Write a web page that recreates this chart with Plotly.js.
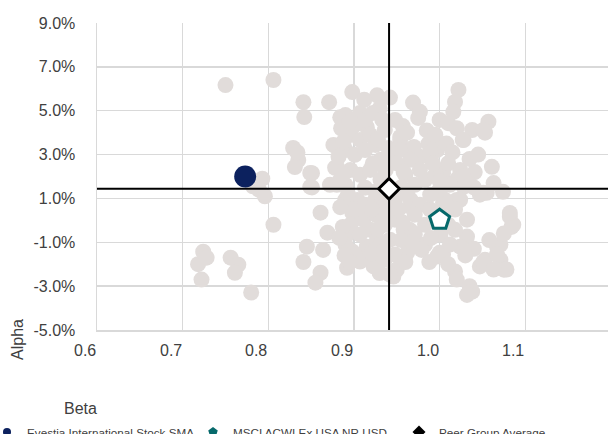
<!DOCTYPE html>
<html><head><meta charset="utf-8">
<script src="https://cdn.plot.ly/plotly-3.0.1.min.js"></script>
<style>html,body{margin:0;padding:0;background:#fff}#chart{width:608px;height:434px}</style>
</head><body><div id="chart"></div>
<script>
// Peer group cloud (beta, alpha %)
const peerBeta = [
0.750,0.806,0.793,0.789,0.796,0.782,0.806,0.724,0.718,0.722,0.728,0.756,0.765,0.761,0.780,
0.841,0.842,0.871,0.898,0.829,0.835,0.831,0.851,0.851,0.878,0.878,0.884,0.907,0.915,0.834,0.876,0.849,0.880,
0.927,0.942,0.969,0.977,0.975,1.000,1.010,1.022,1.018,1.016,1.020,1.027,1.057,1.053,0.987,0.997,0.954,0.966,0.977,0.954,0.946,0.962,0.912,0.930,
1.024,1.041,1.061,1.063,1.074,1.021,1.004,1.027,1.051,1.082,1.084,1.086,1.082,1.032,1.032,1.067,1.071,1.053,1.047,1.075,1.018,1.020,1.035,1.038,1.032,1.000,0.977,0.965,1.004,1.020,0.993,1.004,0.989,0.970,1.038,1.028,1.051,1.071,1.067,1.078,1.051,1.063,1.024,1.004,0.997,0.979,0.950,0.946,0.923,0.915,0.969,1.055,1.028,1.075,
0.849,0.880,0.861,0.869,0.845,0.864,0.841,0.861,0.855,0.892,0.898,0.892,0.898,0.904,0.923,0.942,0.919,0.915,0.958,0.962,0.966,0.911,0.934,0.927,
0.890,0.901,0.913,0.896,0.907,0.919,0.890,0.901,0.913,0.925,0.931,0.896,0.907,0.919,0.931,0.936,0.948,0.890,0.913,0.872,0.884,
0.890,0.901,0.913,0.925,0.936,0.948,0.896,0.907,0.925,0.936,0.948,0.890,0.901,0.931,0.942,0.907,0.936,0.948,
0.954,0.966,0.977,0.960,0.971,0.983,0.995,0.966,0.977,0.989,0.971,1.006,1.012,0.983,1.001,1.018,1.000,0.989,1.024,1.036,1.047,0.971,0.983,1.012,1.001,1.018,
0.935,0.955,0.945,
0.885,0.895,0.888,0.882,0.887,0.893,0.884,0.887,0.883,0.889,0.895,
0.922,0.933,0.928,0.940,0.922,0.937,0.925,0.921,0.938,0.928,0.921,0.935,0.930,
0.957,0.962,0.950,0.958,0.962,0.952,0.957,0.955,0.968,0.960,
0.985,0.995,1.008,1.015,0.992,1.010,1.035,1.045,1.000,1.040,0.995,1.010,0.990,1.040,1.058,1.030,0.988,1.010
];
const peerAlpha = [
6.17,6.40,1.90,1.40,1.10,1.55,-0.20,-1.43,-2.00,-2.70,-1.70,-1.70,-2.02,-2.39,-3.29,
5.39,4.71,5.39,5.85,3.30,2.75,2.43,2.15,1.50,2.40,3.40,4.70,4.90,4.25,3.10,3.44,2.16,2.44,
5.70,5.60,5.37,4.95,4.67,4.58,4.43,5.95,5.40,4.95,4.20,3.67,4.50,4.00,3.50,3.20,3.66,3.20,2.90,3.80,2.90,3.20,5.50,5.10,
2.30,2.20,2.44,1.70,1.30,1.90,2.30,1.99,1.26,0.17,-0.30,-0.20,0.34,0.03,-0.74,-1.20,-1.80,-1.80,-2.10,-2.25,-2.33,-2.70,-3.00,-3.25,-3.40,-1.48,-1.20,-0.43,0.80,0.93,3.66,2.15,3.06,3.35,4.12,3.66,4.12,-1.10,-1.56,-2.24,-1.90,-2.24,-1.20,-1.56,-1.65,-1.35,-2.24,-2.56,-2.00,-1.65,-0.56,1.26,1.53,-0.60,
1.53,1.62,0.35,-0.56,-1.20,-1.35,-1.90,-2.39,-2.84,-2.16,-1.42,-0.65,0.35,0.93,-2.10,-2.47,-0.43,-1.20,-0.43,-1.48,0.62,0.03,0.03,-0.88,
4.80,4.35,4.58,3.90,3.67,3.90,3.21,2.99,3.21,3.44,2.76,2.30,2.08,2.30,1.85,4.12,4.58,1.62,1.49,1.62,1.85,
0.94,0.49,0.71,0.94,0.71,0.94,-0.20,-0.65,0.26,-0.20,0.03,-1.10,-1.56,-1.10,-0.88,-1.88,-1.79,-1.56,
3.21,2.76,2.30,2.08,1.62,1.85,2.08,0.94,0.71,0.49,0.26,0.94,1.62,-0.20,-0.65,-0.43,1.40,1.17,0.94,1.62,1.17,-0.65,-1.10,-1.10,0.26,0.49,
1.30,1.50,1.10,
4.20,4.50,3.60,2.90,2.10,1.20,0.60,-0.30,-0.80,-1.60,-1.90,
4.90,4.60,3.70,3.30,2.60,2.30,1.30,0.50,0.40,-0.40,-1.50,-1.40,-2.40,
4.30,4.00,2.60,2.20,1.30,0.50,-0.10,-0.90,-1.00,-1.90,
4.10,3.90,3.50,3.10,2.60,2.60,2.80,3.00,1.80,1.50,0.20,-0.20,-0.80,-1.30,-0.90,-1.60,-1.90,-2.00
];
const fundName = "Evestia International Stock SMA";
const fundBeta = [0.773];
const fundAlpha = [2.00];
const benchName = "MSCI ACWI Ex USA NR USD";
const benchBeta = [1.000];
const benchAlpha = [0.03];
const avgName = "Peer Group Average";
const avgBeta = [0.941];
const avgAlpha = [1.44];
const xTicks = [0.6, 0.7, 0.8, 0.9, 1.0, 1.1];
const xTickLabels = ["0.6", "0.7", "0.8", "0.9", "1.0", "1.1"];
const yTicks = [-5, -3, -1, 1, 3, 5, 7, 9];
const yTickLabels = ["-5.0%", "-3.0%", "-1.0%", "1.0%", "3.0%", "5.0%", "7.0%", "9.0%"];
const xRange = [0.6, 1.1966];
const yRange = [-5, 9];

const FONT = '"Liberation Sans",Arial,sans-serif';
const TXT = '#404040';
const GRID = '#d9d9d9';

const traces = [
  {x: peerBeta, y: peerAlpha, type:'scatter', mode:'markers', showlegend:false, hoverinfo:'skip',
   marker:{size:16, color:'#e1dcda', line:{width:0}}},
  {x: [avgBeta[0], avgBeta[0]], y: yRange, type:'scatter', mode:'lines', showlegend:false,
   line:{color:'#000', width:2}, hoverinfo:'skip'},
  {x: xRange, y: [avgAlpha[0], avgAlpha[0]], type:'scatter', mode:'lines', showlegend:false,
   line:{color:'#000', width:2}, hoverinfo:'skip'},
  {x: fundBeta, y: fundAlpha, type:'scatter', mode:'markers', showlegend:false,
   marker:{size:22, color:'#0c215e', line:{width:0}}},
  {x: benchBeta, y: benchAlpha, type:'scatter', mode:'markers', showlegend:false,
   marker:{size:21, symbol:'pentagon', color:'#ffffff', line:{width:3, color:'#06696b'}}},
  {x: avgBeta, y: avgAlpha, type:'scatter', mode:'markers', showlegend:false,
   marker:{size:16, symbol:'diamond', color:'#ffffff', line:{width:3, color:'#000'}}},
  // legend keys (no data)
  {x:[null], y:[null], type:'scatter', mode:'markers', name: fundName, legend:'legend',
   marker:{size:8, color:'#0c215e'}},
  {x:[null], y:[null], type:'scatter', mode:'markers', name: benchName, legend:'legend2',
   marker:{size:10, symbol:'pentagon', color:'#06696b'}},
  {x:[null], y:[null], type:'scatter', mode:'markers', name: avgName, legend:'legend3',
   marker:{size:10, symbol:'diamond', color:'#000'}}
];

const pw = 511;
function lx(px){ return (px - 97) / pw; }
const legBase = {orientation:'h', xanchor:'left', yanchor:'top', y:-0.285,
  bgcolor:'rgba(0,0,0,0)', borderwidth:0, font:{family:FONT, size:11.7, color:TXT}};

const tickFont = {family:FONT, size:16, color:TXT};
const xLabelAnn = xTicks.map((v, i) => ({
  text: xTickLabels[i], x: v, xref:'x', y: 0, yref:'paper', xanchor:'center', yanchor:'top',
  xshift: -12, yshift: -10, showarrow:false, font: tickFont
}));

const layout = {
  width:608, height:434,
  margin:{l:97, r:0, t:23, b:104, pad:0, autoexpand:false},
  paper_bgcolor:'#fff', plot_bgcolor:'#fff',
  font:{family:FONT, size:16, color:TXT},
  xaxis:{range:xRange, tickvals:xTicks, showticklabels:false, showgrid:true, gridcolor:GRID, gridwidth:1.5,
    zeroline:false, showline:true, linecolor:GRID, linewidth:1.5, ticks:''},
  yaxis:{range:yRange, tickvals:yTicks, ticktext:yTickLabels, showgrid:true, gridcolor:GRID, gridwidth:1.5,
    zeroline:false, showline:true, linecolor:GRID, linewidth:1.5, ticks:'outside', ticklen:17, tickcolor:'rgba(0,0,0,0)',
    tickfont:tickFont},
  showlegend:true,
  legend:Object.assign({}, legBase, {x:lx(-13)}),
  legend2:Object.assign({}, legBase, {x:lx(193)}),
  legend3:Object.assign({}, legBase, {x:lx(399)}),
  annotations: xLabelAnn.concat([
    {text:'Beta', xref:'paper', yref:'paper', x:lx(80), y:(330-409)/307.3, xanchor:'center', yanchor:'middle',
     showarrow:false, font:tickFont},
    {text:'Alpha', xref:'paper', yref:'paper', x:lx(18), y:(330-340)/307.3, xanchor:'center', yanchor:'middle',
     textangle:-90, showarrow:false, font:tickFont}
  ])
};

Plotly.newPlot('chart', traces, layout, {displayModeBar:false, staticPlot:true});
</script></body></html>
